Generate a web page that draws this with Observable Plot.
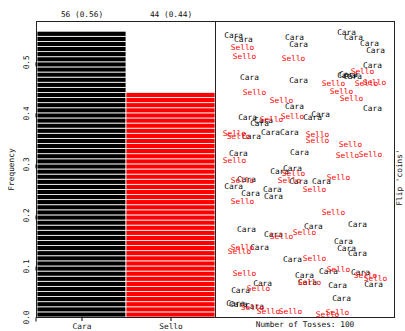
<!DOCTYPE html>
<html>
<head>
<meta charset="utf-8">
<script src="https://cdn.jsdelivr.net/npm/d3@7"></script>
<script src="https://cdn.jsdelivr.net/npm/@observablehq/plot@0.6"></script>
<style>
  html, body { margin: 0; padding: 0; background: white; }
  #wrap { position: relative; width: 405px; height: 331px; overflow: hidden; }
  #wrap svg { position: absolute; top: 0; }
</style>
</head>
<body>
<div id="wrap"></div>
<script>
// ---- data ----
const categories = ["Cara", "Sello"];
const counts = [56, 44];
const nTosses = 100;
const barColors = ["black", "red"];

// positions (fractions of the right panel) of each toss label
const caraU = [0.101,0.156,0.441,0.464,0.732,0.771,0.860,0.894,0.877,0.190,0.464,0.732,0.765,0.743,0.441,0.877,0.179,0.268,0.246,0.542,0.587,0.201,0.307,0.413,0.128,0.469,0.358,0.430,0.173,0.464,0.592,0.101,0.196,0.318,0.324,0.173,0.547,0.793,0.324,0.715,0.732,0.793,0.246,0.430,0.497,0.631,0.810,0.263,0.140,0.514,0.682,0.883,0.704,0.112,0.128,0.218];
const caraV = [0.953,0.939,0.946,0.922,0.963,0.946,0.926,0.902,0.851,0.811,0.801,0.818,0.814,0.821,0.713,0.706,0.676,0.666,0.655,0.676,0.686,0.611,0.625,0.625,0.554,0.557,0.493,0.503,0.466,0.459,0.459,0.443,0.419,0.432,0.409,0.297,0.307,0.314,0.280,0.257,0.233,0.216,0.236,0.196,0.142,0.155,0.152,0.115,0.091,0.118,0.108,0.111,0.064,0.047,0.044,0.037];
const selloU = [0.151,0.162,0.436,0.821,0.659,0.844,0.888,0.704,0.760,0.218,0.369,0.313,0.430,0.106,0.128,0.570,0.570,0.754,0.106,0.737,0.866,0.436,0.151,0.413,0.687,0.553,0.151,0.659,0.369,0.497,0.151,0.134,0.553,0.162,0.687,0.838,0.894,0.240,0.525,0.207,0.296,0.419,0.626,0.682];
const selloV = [0.912,0.882,0.875,0.831,0.791,0.791,0.794,0.764,0.740,0.760,0.733,0.669,0.679,0.622,0.611,0.618,0.598,0.584,0.530,0.547,0.551,0.486,0.463,0.463,0.473,0.432,0.392,0.355,0.274,0.287,0.236,0.223,0.199,0.149,0.162,0.142,0.132,0.098,0.118,0.034,0.020,0.020,0.010,0.017];

const yTicks = [0, 0.1, 0.2, 0.3, 0.4, 0.5];

// ---- derived tables ----
const segments = categories.flatMap((c, k) =>
  d3.range(counts[k]).map(i => ({cat: c, y1: i / nTosses, y2: (i + 1) / nTosses})));
const topLabels = categories.map((c, k) => ({cat: c, label: `${counts[k]} (${(counts[k] / nTosses).toFixed(2)})`}));
const cara = caraU.map((u, i) => ({u, v: caraV[i]}));
const sello = selloU.map((u, i) => ({u, v: selloV[i]}));

const font = {fontFamily: "'DejaVu Sans Mono', monospace", fontSize: "7.8px", background: "transparent", overflow: "visible"};

const left = Plot.plot({
  width: 215, height: 331,
  marginLeft: 36, marginRight: 0, marginTop: 21, marginBottom: 14,
  style: font,
  x: {type: "band", domain: categories, padding: 0, axis: null},
  y: {domain: [0, 0.58], axis: null},
  color: {domain: categories, range: barColors},
  marks: [
    Plot.barY(segments, {x: "cat", y1: "y1", y2: "y2", fill: "cat", stroke: "white", strokeWidth: 0.8}),
    Plot.frame({stroke: "#222"}),
    Plot.axisY({ticks: yTicks, tickFormat: d3.format(".1f"), tickSize: 4, tickPadding: 6, rotate: -90, textAnchor: "middle", label: null, fill: "#111"}),
    Plot.axisX({tickSize: 4, tickPadding: 2, label: null, fill: "#111"}),
    Plot.text(topLabels, {x: "cat", text: "label", frameAnchor: "top", dy: -10, fill: "#111"}),
    Plot.text(["Frequency"], {frameAnchor: "left", dx: -25, rotate: -90, textAnchor: "middle", fill: "#111"})
  ]
});
left.style.left = "0px";

const right = Plot.plot({
  width: 190, height: 331,
  marginLeft: 0, marginRight: 11, marginTop: 21, marginBottom: 14,
  style: font,
  x: {domain: [0, 1], axis: null},
  y: {domain: [0, 1], axis: null},
  marks: [
    Plot.frame({stroke: "#222"}),
    Plot.text(cara, {x: "u", y: "v", text: () => categories[0], fill: barColors[0]}),
    Plot.text(sello, {x: "u", y: "v", text: () => categories[1], fill: barColors[1]}),
    Plot.text([`Number of Tosses: ${nTosses}`], {frameAnchor: "bottom", dy: 9, fill: "#111"}),
    Plot.text(["Flip 'coins'"], {frameAnchor: "right", dx: 5, dy: 8, rotate: -90, textAnchor: "middle", fill: "#111"})
  ]
});
right.style.left = "215px";

const wrap = document.getElementById("wrap");
wrap.appendChild(left);
wrap.appendChild(right);
</script>
</body>
</html>
